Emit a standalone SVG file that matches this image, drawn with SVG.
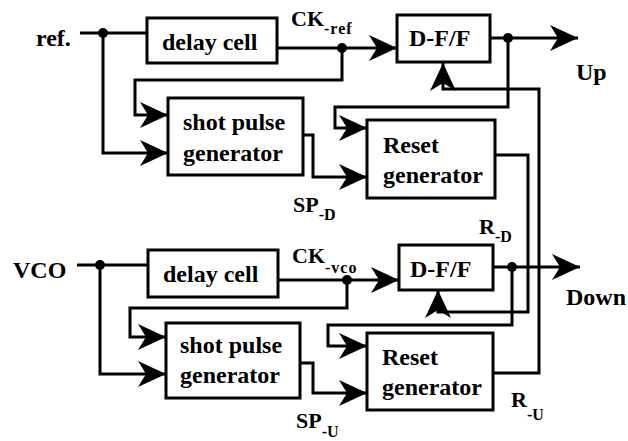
<svg xmlns="http://www.w3.org/2000/svg" width="628" height="441" viewBox="0 0 628 441" font-family="Liberation Serif, Times New Roman, serif" font-weight="bold">
<style>
.box{fill:#fff;stroke:#000;stroke-width:3}
.w{fill:none;stroke:#000;stroke-width:3;stroke-linejoin:miter}
.a{marker-end:url(#arr)}
.t{font-size:24px}
.l{font-size:22px}
.s{font-size:16px}
.dot{fill:#000}
</style>
<defs>
<marker id="arr" markerUnits="userSpaceOnUse" markerWidth="30" markerHeight="30" refX="28" refY="13" orient="auto">
<path d="M0,0 L28,13 L0,26 L8,13 Z" fill="#000"/>
</marker>
</defs>
<rect width="628" height="441" fill="#fff"/>

<g id="connectors">
<path class="w" d="M80,33 H147"/>
<path class="w a" d="M103,33 V153 H168"/>
<path class="w a" d="M277,48 H397"/>
<path class="w a" d="M342,48 V80 H135 V115 H168"/>
<path class="w a" d="M303,135 H313 V177 H367"/>
<path class="w a" d="M490,38 H578"/>
<path class="w a" d="M508,38 V107 H335 V128 H367"/>
<path class="w a" d="M495,155 H528 V312 H438 V290"/>
<path class="w a" d="M493,373 H539 V89 H443 V63"/>
<path class="w" d="M77,265 H148"/>
<path class="w a" d="M100,265 V374 H166"/>
<path class="w a" d="M278,280 H399"/>
<path class="w a" d="M347,280 V308 H130 V337 H166"/>
<path class="w a" d="M300,363 H313 V393 H367"/>
<path class="w a" d="M493,267 H580"/>
<path class="w a" d="M512,267 V325 H328 V346 H367"/>
<circle class="dot" cx="103" cy="33" r="5"/>
<circle class="dot" cx="342" cy="48" r="5"/>
<circle class="dot" cx="508" cy="38" r="5"/>
<circle class="dot" cx="100" cy="265" r="5"/>
<circle class="dot" cx="347" cy="280" r="5"/>
<circle class="dot" cx="512" cy="267" r="5"/>
</g>

<g id="delay1"><rect class="box" x="147" y="18" width="130" height="45"/><text class="t" x="162" y="50">delay cell</text></g>
<g id="dff1"><rect class="box" x="397" y="15" width="93" height="47"/><text class="t" x="409" y="46">D-F/F</text></g>
<g id="spg1"><rect class="box" x="168" y="98" width="135" height="77"/><text class="t" x="183" y="130">shot pulse</text><text class="t" x="183" y="161">generator</text></g>
<g id="rg1"><rect class="box" x="367" y="120" width="128" height="78"/><text class="t" x="383" y="153">Reset</text><text class="t" x="383" y="183">generator</text></g>

<g id="delay2"><rect class="box" x="148" y="250" width="130" height="47"/><text class="t" x="163" y="282">delay cell</text></g>
<g id="dff2"><rect class="box" x="399" y="245" width="94" height="45"/><text class="t" x="410" y="277">D-F/F</text></g>
<g id="spg2"><rect class="box" x="166" y="323" width="134" height="75"/><text class="t" x="180" y="353">shot pulse</text><text class="t" x="180" y="383">generator</text></g>
<g id="rg2"><rect class="box" x="367" y="333" width="126" height="77"/><text class="t" x="382" y="365">Reset</text><text class="t" x="382" y="395">generator</text></g>

<g id="labels">
<text class="t" x="36" y="46">ref.</text>
<text class="t" x="13" y="278">VCO</text>
<text class="t" x="576" y="80">Up</text>
<text class="t" x="566" y="305">Down</text>
<text class="l" x="291" y="26">CK<tspan class="s" dy="8" letter-spacing="1">-ref</tspan></text>
<text class="l" x="293" y="212">SP<tspan class="s" dy="8">-D</tspan></text>
<text class="l" x="292" y="263">CK<tspan class="s" dy="10" letter-spacing="1">-vco</tspan></text>
<text class="l" x="296" y="428">SP<tspan class="s" dy="9">-U</tspan></text>
<text class="l" x="479" y="234">R<tspan class="s" dy="8">-D</tspan></text>
<text class="l" x="511" y="407">R<tspan class="s" dy="13">-U</tspan></text>
</g>
</svg>
